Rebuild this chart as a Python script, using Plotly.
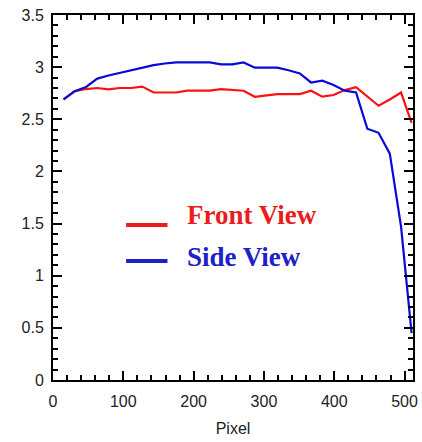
import plotly.graph_objects as go

pixel = [15, 31, 47, 63, 79, 95, 111, 127, 143, 159, 175, 191, 207, 223, 239, 255,
         271, 287, 303, 319, 335, 351, 367, 383, 399, 415, 431, 447, 463, 479, 495, 510]
front_view = [2.69, 2.77, 2.79, 2.80, 2.787, 2.80, 2.80, 2.814, 2.757, 2.76, 2.757, 2.774,
              2.774, 2.774, 2.79, 2.78, 2.774, 2.716, 2.728, 2.742, 2.742, 2.742, 2.774,
              2.717, 2.733, 2.78, 2.808, 2.72, 2.63, 2.69, 2.757, 2.465]
side_view = [2.69, 2.77, 2.81, 2.89, 2.92, 2.945, 2.97, 2.99, 3.02, 3.035, 3.045, 3.045,
             3.045, 3.045, 3.027, 3.027, 3.045, 2.995, 2.995, 2.995, 2.97, 2.94, 2.853,
             2.87, 2.828, 2.774, 2.758, 2.41, 2.37, 2.17, 1.47, 0.45]

x_ticks = [0, 100, 200, 300, 400, 500]
y_ticks = [0, 0.5, 1, 1.5, 2, 2.5, 3, 3.5]

RED = "#ff1010"
BLUE = "#0a0ad8"
RED_TXT = "#ec1c1c"
BLUE_TXT = "#2020c8"

fig = go.Figure()
fig.add_trace(go.Scatter(x=pixel, y=front_view, mode="lines", name="Front View",
                         line=dict(color=RED, width=2.2)))
fig.add_trace(go.Scatter(x=pixel, y=side_view, mode="lines", name="Side View",
                         line=dict(color=BLUE, width=2.2)))

axis_common = dict(
    showline=True, linecolor="black", linewidth=2, mirror="allticks",
    ticks="inside", tickcolor="black", tickwidth=2, ticklen=9,
    showgrid=False, zeroline=False,
    tickfont=dict(family="Liberation Sans, Arial, sans-serif", size=16, color="#222"),
)

fig.update_xaxes(range=[0, 512], tickvals=x_ticks,
                 minor=dict(dtick=20, ticks="inside", ticklen=5, tickwidth=1.5, tickcolor="black"),
                 title=dict(text="Pixel", font=dict(family="Liberation Sans, Arial, sans-serif", size=16, color="#222"), standoff=14),
                 ticklabelstandoff=6,
                 **axis_common)
fig.update_yaxes(range=[0, 3.5], tickvals=y_ticks,
                 minor=dict(dtick=0.1, ticks="inside", ticklen=5, tickwidth=1.5, tickcolor="black"),
                 ticklabelstandoff=4,
                 **axis_common)

# legend drawn inside the plot
leg_items = [("Front View", RED_TXT, 0.425, 0.452), ("Side View", BLUE_TXT, 0.326, 0.336)]
for name, col, yl, yt in leg_items:
    fig.add_shape(type="line", xref="paper", yref="paper", x0=0.203, x1=0.318, y0=yl, y1=yl,
                  line=dict(color=col, width=4))
    fig.add_annotation(xref="paper", yref="paper", x=0.368, y=yt, xanchor="left", yanchor="middle",
                       text="<b>%s</b>" % name, showarrow=False,
                       font=dict(family="Liberation Serif, Times New Roman, serif", size=27, color=col))

fig.update_layout(
    width=422, height=442,
    margin=dict(l=53, r=4, t=15, b=62),
    paper_bgcolor="white", plot_bgcolor="white",
    showlegend=False,
)

fig.write_html("out.html")
